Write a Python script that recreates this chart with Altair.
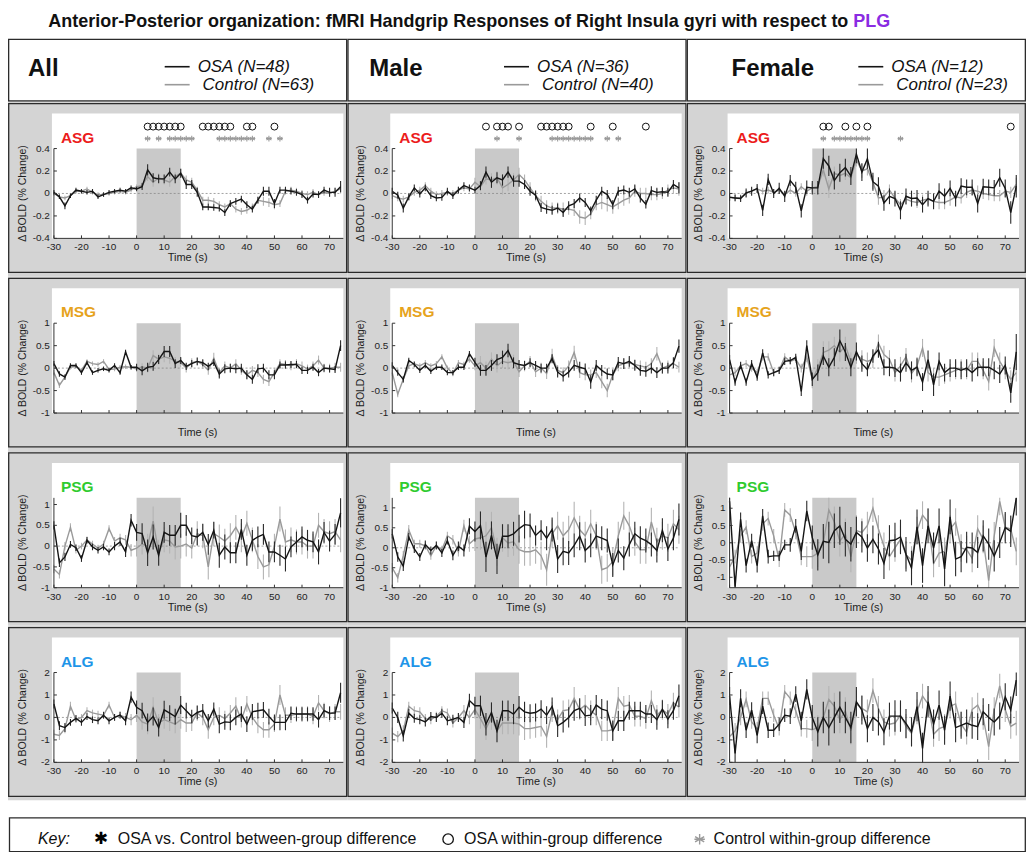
import altair as alt
import numpy as np
import pandas as pd

FONT = "Liberation Sans"

# ---------------- shared axes / categories ----------------
TIME = list(range(-30, 76, 2))          # -30 ... 74 s, 53 samples
X_TICKS = [-30, -20, -10, 0, 10, 20, 30, 40, 50, 60, 70]
X_DOMAIN = [-30, 75]
STIM = [0, 16]
ZERO_SPAN = [-30, 74]
COLUMNS = ["All", "Male", "Female"]
OSA_N = [48, 36, 12]
CTL_N = [63, 40, 23]
REGIONS = ["ASG", "MSG", "PSG", "ALG"]
REGION_COLORS = ["#ec1c1c", "#e6a31c", "#2fcb2f", "#1e95e8"]
Y_LIMITS = {
    "ASG": [(-0.4, 0.4), (-0.4, 0.4), (-0.4, 0.4)],
    "MSG": [(-1, 1), (-1, 1), (-1, 1)],
    "PSG": [(-1, 1.16), (-1, 1.25), (-1.3, 1.3)],
    "ALG": [(-2, 2), (-2, 2), (-2, 2)],
}
Y_TICKS = {
    "ASG": [-0.4, -0.2, 0, 0.2, 0.4],
    "MSG": [-1, -0.5, 0, 0.5, 1],
    "PSG": [-1, -0.5, 0, 0.5, 1],
    "ALG": [-2, -1, 0, 1, 2],
}

# ---------------- significance markers (ASG row) ----------------
ASG_ALL_CIRCLES = [4, 6, 8, 10, 12, 14, 16, 24, 26, 28, 30, 32, 34, 40, 42, 50]
ASG_ALL_STARS = [4, 8, 12, 14, 16, 18, 20, 30, 32, 34, 36, 38, 40, 42, 48, 52]
ASG_MALE_CIRCLES = [4, 8, 10, 12, 16, 24, 26, 28, 30, 32, 34, 42, 50, 62]
ASG_MALE_STARS = [8, 16, 28, 30, 32, 34, 36, 38, 40, 42, 48, 52]
ASG_FEMALE_CIRCLES = [4, 6, 12, 16, 20, 72]
ASG_FEMALE_STARS = [4, 8, 10, 12, 14, 16, 18, 20, 32]

# ---------------- ASG ----------------
ASG_ALL_OSA = [0.01, -0.03, -0.11, -0.02, 0.03, 0.02, 0.01, 0.02, -0.03, -0.01,
               0.01, 0.02, 0.03, 0.02, 0.05, 0.04, 0.06, 0.21, 0.14, 0.13,
               0.13, 0.19, 0.13, 0.18, 0.08, 0.08, 0.01, -0.12, -0.12, -0.125,
               -0.13, -0.17, -0.09, -0.07, -0.05, -0.10, -0.14, -0.06, 0.02, 0.02,
               -0.09, 0.03, 0.03, 0.02, 0.01, -0.01, -0.06, -0.005, -0.01, 0.03,
               0.01, 0.01, 0.06]
ASG_ALL_OSA_SE = [0.02, 0.02, 0.03, 0.02, 0.02, 0.02, 0.02, 0.02, 0.02, 0.02,
                  0.02, 0.02, 0.02, 0.02, 0.02, 0.02, 0.03, 0.05, 0.04, 0.04,
                  0.04, 0.04, 0.04, 0.04, 0.04, 0.04, 0.04, 0.03, 0.03, 0.03,
                  0.03, 0.03, 0.03, 0.03, 0.03, 0.03, 0.03, 0.03, 0.04, 0.04,
                  0.04, 0.03, 0.03, 0.03, 0.03, 0.03, 0.03, 0.03, 0.03, 0.03,
                  0.04, 0.04, 0.05]
ASG_ALL_CTL = [0.0, -0.03, -0.04, -0.02, 0.02, 0.02, 0.04, 0.01, -0.01, -0.01,
               0.0, 0.01, 0.02, 0.01, 0.03, 0.06, 0.07, 0.15, 0.10, 0.14,
               0.12, 0.10, 0.15, 0.18, 0.12, 0.10, 0.03, -0.06, -0.06, -0.07,
               -0.10, -0.12, -0.09, -0.14, -0.16, -0.15, -0.12, -0.06, -0.07, -0.08,
               -0.10, -0.09, 0.02, 0.03, 0.02, 0.0, -0.01, 0.01, -0.01, 0.01,
               0.0, 0.02, 0.04]
ASG_ALL_CTL_SE = [0.02, 0.02, 0.02, 0.02, 0.02, 0.02, 0.02, 0.02, 0.02, 0.02,
                  0.02, 0.02, 0.02, 0.02, 0.02, 0.02, 0.03, 0.04, 0.04, 0.04,
                  0.04, 0.04, 0.04, 0.04, 0.04, 0.04, 0.03, 0.03, 0.03, 0.03,
                  0.03, 0.03, 0.03, 0.03, 0.03, 0.03, 0.03, 0.03, 0.04, 0.04,
                  0.04, 0.03, 0.03, 0.03, 0.03, 0.03, 0.03, 0.03, 0.03, 0.03,
                  0.03, 0.03, 0.04]

ASG_MALE_OSA = [0.02, -0.015, -0.13, -0.03, 0.05, -0.005, 0.05, -0.02, -0.04, -0.035,
                0.02, -0.02, 0.03, 0.07, 0.05, 0.03, 0.07, 0.19, 0.10, 0.14,
                0.12, 0.19, 0.11, 0.11, 0.08, 0.02, -0.015, -0.125, -0.14, -0.15,
                -0.13, -0.17, -0.11, -0.09, -0.04, -0.08, -0.155, -0.06, 0.02, -0.01,
                -0.10, 0.02, 0.03, 0.01, 0.04, -0.04, -0.095, 0.025, 0.01, 0.015,
                0.01, 0.08, 0.05]
ASG_MALE_OSA_SE = [0.03, 0.03, 0.04, 0.03, 0.03, 0.03, 0.03, 0.03, 0.03, 0.03,
                   0.03, 0.03, 0.03, 0.03, 0.03, 0.03, 0.04, 0.05, 0.05, 0.05,
                   0.05, 0.05, 0.05, 0.05, 0.04, 0.04, 0.04, 0.04, 0.04, 0.04,
                   0.04, 0.04, 0.04, 0.04, 0.04, 0.04, 0.04, 0.04, 0.04, 0.04,
                   0.04, 0.04, 0.04, 0.04, 0.04, 0.04, 0.04, 0.04, 0.04, 0.04,
                   0.04, 0.04, 0.05]
ASG_MALE_CTL = [-0.02, -0.04, -0.05, -0.03, 0.01, 0.03, 0.07, 0.02, -0.01, 0.0,
                0.01, 0.0, 0.03, 0.05, 0.04, 0.10, 0.06, 0.13, 0.12, 0.14,
                0.05, 0.08, 0.12, 0.17, 0.12, 0.05, -0.02, -0.07, -0.11, -0.13,
                -0.13, -0.14, -0.14, -0.15, -0.21, -0.22, -0.18, -0.10, -0.08, -0.10,
                -0.12, -0.09, -0.06, -0.04, 0.02, 0.0, 0.0, -0.01, -0.01, 0.0,
                0.03, 0.05, 0.04]
ASG_MALE_CTL_SE = [0.03, 0.03, 0.03, 0.03, 0.03, 0.03, 0.03, 0.03, 0.03, 0.03,
                   0.03, 0.03, 0.03, 0.03, 0.03, 0.04, 0.04, 0.05, 0.06, 0.06,
                   0.06, 0.06, 0.06, 0.06, 0.05, 0.05, 0.05, 0.05, 0.05, 0.05,
                   0.05, 0.06, 0.05, 0.05, 0.06, 0.06, 0.05, 0.05, 0.06, 0.06,
                   0.06, 0.05, 0.05, 0.05, 0.05, 0.05, 0.05, 0.05, 0.05, 0.05,
                   0.05, 0.05, 0.06]

ASG_FEMALE_OSA = [-0.035, -0.04, -0.045, 0.005, 0.02, 0.045, -0.15, 0.125, 0.0, 0.045,
                  -0.025, 0.115, 0.055, -0.155, 0.055, 0.05, 0.05, 0.31, 0.245, 0.115,
                  0.185, 0.23, 0.155, 0.35, 0.19, 0.31, 0.105, 0.065, -0.085, -0.025,
                  -0.045, -0.15, -0.025, -0.045, -0.04, -0.10, -0.045, -0.07, 0.02, -0.025,
                  0.045, -0.045, 0.065, 0.055, 0.055, -0.09, 0.06, 0.055, 0.05, 0.14,
                  0.045, -0.17, 0.065]
ASG_FEMALE_OSA_SE = [0.03, 0.03, 0.03, 0.04, 0.04, 0.04, 0.05, 0.05, 0.04, 0.05,
                     0.05, 0.05, 0.05, 0.06, 0.06, 0.06, 0.06, 0.09, 0.09, 0.08,
                     0.08, 0.08, 0.08, 0.08, 0.08, 0.09, 0.08, 0.08, 0.07, 0.07,
                     0.07, 0.08, 0.07, 0.07, 0.07, 0.07, 0.07, 0.07, 0.07, 0.07,
                     0.07, 0.07, 0.07, 0.07, 0.07, 0.08, 0.07, 0.07, 0.07, 0.08,
                     0.08, 0.10, 0.10]
ASG_FEMALE_CTL = [-0.03, -0.04, -0.04, 0.0, 0.02, 0.04, 0.02, 0.03, 0.01, 0.03,
                  -0.01, 0.03, 0.0, 0.06, 0.02, 0.05, 0.06, 0.21, 0.04, 0.18,
                  0.16, 0.18, 0.14, 0.30, 0.20, 0.22, 0.10, -0.04, -0.03, 0.03,
                  -0.04, -0.10, -0.05, -0.07, -0.08, -0.06, -0.05, -0.07, -0.08, -0.08,
                  -0.06, -0.03, -0.04, 0.01, 0.03, 0.02, 0.0, -0.01, -0.02, -0.02,
                  0.02, 0.01, 0.08]
ASG_FEMALE_CTL_SE = [0.03, 0.03, 0.03, 0.03, 0.03, 0.03, 0.03, 0.03, 0.03, 0.03,
                     0.03, 0.03, 0.03, 0.03, 0.04, 0.04, 0.05, 0.06, 0.08, 0.06,
                     0.06, 0.06, 0.06, 0.06, 0.06, 0.06, 0.06, 0.06, 0.06, 0.05,
                     0.05, 0.05, 0.05, 0.05, 0.05, 0.05, 0.05, 0.05, 0.06, 0.06,
                     0.05, 0.05, 0.05, 0.05, 0.05, 0.05, 0.05, 0.05, 0.05, 0.05,
                     0.05, 0.05, 0.06]

# ---------------- MSG ----------------
MSG_ALL_OSA = [0.10, -0.13, -0.20, 0.06, 0.06, -0.10, 0.12, -0.10, -0.05, -0.015,
               -0.05, 0.06, -0.10, 0.36, 0.02, 0.02, -0.06, 0.02, 0.04, 0.19,
               0.37, 0.37, 0.10, 0.17, 0.04, 0.10, 0.15, 0.12, 0.04, 0.13,
               -0.13, -0.015, 0.0, -0.015, 0.0, -0.15, -0.25, -0.015, 0.0, -0.15,
               -0.15, 0.07, 0.07, 0.08, 0.08, -0.05, -0.05, 0.02, -0.10, 0.0,
               -0.015, -0.03, 0.50]
MSG_ALL_OSA_SE = [0.06, 0.06, 0.06, 0.05, 0.05, 0.05, 0.05, 0.05, 0.05, 0.05,
                  0.05, 0.05, 0.05, 0.05, 0.05, 0.08, 0.10, 0.10, 0.10, 0.10,
                  0.12, 0.12, 0.10, 0.08, 0.08, 0.08, 0.08, 0.08, 0.08, 0.08,
                  0.10, 0.10, 0.10, 0.10, 0.10, 0.10, 0.10, 0.10, 0.10, 0.10,
                  0.10, 0.08, 0.08, 0.08, 0.08, 0.08, 0.08, 0.08, 0.08, 0.08,
                  0.08, 0.08, 0.12]
MSG_ALL_CTL = [-0.10, -0.38, -0.20, 0.02, 0.04, -0.05, 0.15, 0.10, 0.08, 0.15,
               -0.03, -0.02, 0.02, 0.03, 0.02, -0.02, 0.03, 0.0, 0.28, 0.20,
               0.25, 0.22, 0.15, 0.12, 0.0, 0.12, 0.15, 0.08, -0.05, 0.22,
               -0.10, 0.05, 0.0, 0.10, -0.05, -0.15, -0.05, -0.10, -0.25, -0.30,
               -0.10, 0.10, 0.08, 0.05, 0.10, 0.05, -0.02, 0.05, 0.18, 0.0,
               0.0, 0.02, 0.02]
MSG_ALL_CTL_SE = [0.06, 0.06, 0.06, 0.05, 0.05, 0.05, 0.05, 0.05, 0.05, 0.05,
                  0.05, 0.05, 0.05, 0.05, 0.05, 0.06, 0.08, 0.10, 0.12, 0.12,
                  0.12, 0.12, 0.10, 0.10, 0.10, 0.10, 0.10, 0.10, 0.10, 0.12,
                  0.10, 0.10, 0.10, 0.10, 0.10, 0.10, 0.10, 0.10, 0.10, 0.10,
                  0.10, 0.10, 0.10, 0.10, 0.10, 0.10, 0.10, 0.10, 0.10, 0.10,
                  0.10, 0.10, 0.10]

MSG_MALE_OSA = [0.06, -0.10, -0.25, 0.17, 0.08, -0.05, 0.06, -0.07, 0.02, 0.02,
                -0.10, -0.10, 0.02, 0.02, 0.32, 0.13, -0.05, -0.05, 0.06, 0.19,
                0.24, 0.39, 0.12, 0.08, 0.06, 0.12, 0.06, 0.0, 0.0, 0.21,
                -0.09, -0.18, -0.09, 0.06, 0.02, -0.015, -0.31, 0.06, -0.05, -0.13,
                -0.15, 0.13, 0.10, 0.15, 0.06, -0.05, -0.07, 0.0, -0.10, 0.0,
                0.0, 0.12, 0.49]
MSG_MALE_OSA_SE = [0.07, 0.07, 0.07, 0.06, 0.06, 0.06, 0.06, 0.06, 0.06, 0.06,
                   0.06, 0.06, 0.06, 0.06, 0.06, 0.10, 0.12, 0.12, 0.12, 0.12,
                   0.15, 0.15, 0.12, 0.10, 0.10, 0.10, 0.10, 0.10, 0.10, 0.10,
                   0.12, 0.12, 0.12, 0.12, 0.12, 0.12, 0.15, 0.12, 0.12, 0.12,
                   0.12, 0.12, 0.12, 0.12, 0.12, 0.12, 0.12, 0.12, 0.12, 0.12,
                   0.12, 0.12, 0.15]
MSG_MALE_CTL = [-0.10, -0.58, -0.25, 0.05, 0.10, 0.05, 0.12, 0.05, 0.10, 0.25,
                0.0, -0.12, 0.12, 0.08, 0.20, 0.05, 0.12, 0.0, 0.20, 0.05,
                0.15, 0.12, 0.15, -0.08, 0.05, 0.15, -0.08, 0.0, -0.12, 0.28,
                -0.05, -0.10, 0.05, 0.35, -0.10, -0.15, -0.15, -0.10, -0.30, -0.50,
                -0.15, 0.05, 0.10, 0.12, 0.08, 0.05, 0.02, 0.10, 0.32, 0.0,
                0.05, 0.10, 0.02]
MSG_MALE_CTL_SE = [0.07, 0.07, 0.07, 0.06, 0.06, 0.06, 0.06, 0.06, 0.06, 0.06,
                   0.06, 0.06, 0.06, 0.06, 0.08, 0.10, 0.15, 0.15, 0.15, 0.15,
                   0.15, 0.15, 0.15, 0.12, 0.12, 0.12, 0.12, 0.12, 0.12, 0.15,
                   0.12, 0.12, 0.12, 0.15, 0.12, 0.12, 0.12, 0.12, 0.15, 0.15,
                   0.12, 0.12, 0.12, 0.12, 0.12, 0.12, 0.12, 0.12, 0.15, 0.12,
                   0.12, 0.12, 0.12]

MSG_FEMALE_OSA = [0.19, -0.31, 0.06, -0.31, 0.10, -0.20, 0.34, -0.15, -0.10, -0.05,
                  0.15, 0.17, 0.24, -0.52, 0.50, -0.25, -0.10, 0.27, 0.02, 0.24,
                  0.61, 0.36, 0.02, 0.37, 0.10, -0.03, 0.27, 0.41, 0.02, 0.02,
                  0.0, -0.10, 0.12, -0.05, 0.02, -0.31, 0.19, -0.37, 0.15, -0.10,
                  0.0, 0.0, -0.05, 0.0, -0.10, 0.02, 0.02, 0.02, -0.05, -0.13,
                  0.06, -0.55, 0.36]
MSG_FEMALE_OSA_SE = [0.10, 0.08, 0.08, 0.08, 0.08, 0.08, 0.08, 0.08, 0.08, 0.08,
                     0.08, 0.08, 0.08, 0.10, 0.12, 0.15, 0.18, 0.20, 0.20, 0.20,
                     0.25, 0.20, 0.20, 0.20, 0.18, 0.15, 0.15, 0.18, 0.18, 0.20,
                     0.20, 0.20, 0.20, 0.20, 0.20, 0.20, 0.20, 0.25, 0.20, 0.20,
                     0.20, 0.20, 0.20, 0.20, 0.20, 0.20, 0.20, 0.20, 0.20, 0.20,
                     0.20, 0.22, 0.40]
MSG_FEMALE_CTL = [-0.15, -0.10, 0.05, 0.10, 0.0, -0.10, 0.25, 0.25, -0.10, -0.05,
                  0.25, 0.15, 0.20, 0.0, 0.25, -0.25, 0.0, 0.35, 0.40, 0.50,
                  0.35, 0.50, 0.15, 0.30, 0.20, 0.15, 0.20, 0.55, 0.30, 0.20,
                  -0.10, 0.05, 0.25, -0.12, 0.05, 0.45, -0.10, -0.20, -0.20, -0.15,
                  -0.10, -0.05, 0.0, -0.05, 0.15, 0.15, -0.05, -0.30, 0.45, 0.15,
                  -0.05, -0.25, -0.10]
MSG_FEMALE_CTL_SE = [0.08, 0.08, 0.08, 0.08, 0.08, 0.08, 0.08, 0.08, 0.08, 0.08,
                     0.08, 0.08, 0.08, 0.10, 0.12, 0.20, 0.20, 0.25, 0.20, 0.20,
                     0.20, 0.20, 0.20, 0.20, 0.20, 0.20, 0.20, 0.20, 0.20, 0.20,
                     0.20, 0.20, 0.20, 0.20, 0.20, 0.20, 0.20, 0.20, 0.20, 0.20,
                     0.20, 0.20, 0.20, 0.20, 0.20, 0.20, 0.20, 0.20, 0.20, 0.20,
                     0.20, 0.20, 0.20]

# ---------------- PSG ----------------
PSG_ALL_OSA = [0.50, -0.40, -0.26, 0.04, -0.04, -0.30, 0.14, -0.02, -0.10, -0.02,
               -0.14, 0.0, 0.10, -0.14, 0.62, 0.33, 0.30, -0.16, 0.22, -0.22,
               0.33, 0.26, 0.26, 0.50, 0.50, 0.25, 0.22, 0.33, 0.04, 0.38,
               -0.22, -0.02, -0.16, -0.16, 0.40, -0.22, 0.14, 0.22, 0.28, -0.14,
               -0.14, -0.22, -0.31, -0.02, 0.10, 0.22, 0.14, 0.10, -0.14, 0.33,
               0.12, 0.28, 0.80]
PSG_ALL_OSA_SE = [0.10, 0.10, 0.10, 0.08, 0.08, 0.08, 0.08, 0.08, 0.08, 0.08,
                  0.08, 0.10, 0.10, 0.12, 0.15, 0.20, 0.25, 0.32, 0.30, 0.25,
                  0.25, 0.25, 0.25, 0.30, 0.25, 0.20, 0.20, 0.20, 0.25, 0.20,
                  0.30, 0.30, 0.25, 0.25, 0.25, 0.25, 0.25, 0.25, 0.25, 0.25,
                  0.25, 0.25, 0.30, 0.25, 0.25, 0.25, 0.25, 0.25, 0.30, 0.25,
                  0.25, 0.25, 0.35]
PSG_ALL_CTL = [-0.55, -0.68, 0.0, 0.45, -0.10, 0.0, 0.15, 0.05, -0.05, 0.05,
               0.42, 0.12, 0.20, 0.15, -0.10, -0.05, 0.05, 0.0, 0.60, -0.15,
               0.15, 0.12, -0.02, 0.0, 0.05, -0.05, 0.30, 0.25, -0.50, 0.30,
               0.22, 0.12, 0.25, 0.45, 0.20, 0.55, 0.15, -0.25, -0.50, -0.45,
               0.0, 0.65, 0.10, 0.15, 0.10, 0.10, 0.0, 0.0, 0.50, 0.35,
               0.30, 0.35, 0.15]
PSG_ALL_CTL_SE = [0.10, 0.10, 0.10, 0.10, 0.08, 0.08, 0.08, 0.08, 0.08, 0.08,
                  0.08, 0.10, 0.10, 0.12, 0.15, 0.20, 0.25, 0.30, 0.35, 0.30,
                  0.30, 0.30, 0.30, 0.30, 0.30, 0.25, 0.30, 0.30, 0.30, 0.30,
                  0.30, 0.30, 0.30, 0.30, 0.35, 0.30, 0.30, 0.30, 0.30, 0.30,
                  0.30, 0.30, 0.30, 0.30, 0.30, 0.30, 0.30, 0.30, 0.30, 0.30,
                  0.30, 0.30, 0.30]

PSG_MALE_OSA = [0.35, -0.23, -0.46, 0.27, -0.03, -0.23, 0.08, -0.07, 0.06, -0.13,
                0.18, -0.19, 0.04, -0.07, 0.54, 0.41, 0.56, -0.23, 0.31, -0.28,
                0.29, 0.29, 0.35, 0.48, 0.58, 0.56, 0.31, 0.44, 0.24, 0.46,
                -0.28, -0.09, -0.13, 0.06, 0.29, -0.07, 0.06, 0.29, 0.24, 0.18,
                -0.43, -0.07, -0.26, 0.08, 0.35, 0.24, 0.18, 0.08, -0.07, 0.44,
                -0.03, 0.24, 0.71]
PSG_MALE_OSA_SE = [0.12, 0.12, 0.12, 0.10, 0.10, 0.10, 0.10, 0.10, 0.10, 0.10,
                   0.10, 0.12, 0.12, 0.15, 0.20, 0.25, 0.35, 0.38, 0.35, 0.38,
                   0.30, 0.30, 0.30, 0.35, 0.35, 0.30, 0.25, 0.25, 0.30, 0.30,
                   0.35, 0.35, 0.30, 0.30, 0.35, 0.30, 0.30, 0.30, 0.30, 0.30,
                   0.30, 0.30, 0.30, 0.30, 0.30, 0.30, 0.30, 0.30, 0.30, 0.30,
                   0.30, 0.30, 0.40]
PSG_MALE_CTL = [-0.50, -0.75, -0.20, 0.45, 0.10, 0.10, 0.05, -0.20, 0.05, -0.05,
                0.30, 0.20, -0.10, 0.55, 0.10, 0.22, 0.25, 0.30, 0.50, -0.10,
                0.25, 0.12, 0.15, -0.05, -0.10, -0.10, -0.05, -0.20, -0.55, 0.35,
                0.55, 0.30, 0.45, 0.75, 0.45, 0.30, 0.60, 0.30, -0.55, -0.50,
                -0.35, 0.30, 0.80, 0.55, 0.15, -0.05, -0.05, 0.65, 0.15, 0.30,
                0.25, 0.60, 0.45]
PSG_MALE_CTL_SE = [0.12, 0.12, 0.12, 0.12, 0.10, 0.10, 0.10, 0.10, 0.10, 0.10,
                   0.10, 0.12, 0.12, 0.15, 0.20, 0.30, 0.30, 0.35, 0.40, 0.35,
                   0.35, 0.35, 0.35, 0.35, 0.35, 0.35, 0.35, 0.35, 0.40, 0.35,
                   0.35, 0.35, 0.35, 0.40, 0.35, 0.35, 0.35, 0.35, 0.35, 0.35,
                   0.35, 0.35, 0.35, 0.35, 0.35, 0.35, 0.35, 0.35, 0.35, 0.35,
                   0.35, 0.35, 0.35]

PSG_FEMALE_OSA = [1.20, -1.27, 0.68, -0.66, 0.06, -0.66, 0.78, -0.40, -0.38, -0.38,
                  -0.06, -0.06, 0.49, -0.25, 0.92, 0.15, -0.35, 0.04, 0.01, 0.35,
                  0.49, 0.10, -0.04, 0.30, 0.17, -0.15, 0.10, -0.18, -0.60, 0.06,
                  0.08, 0.17, -0.33, -0.73, 0.46, -0.66, 0.49, -0.15, 0.49, -0.76,
                  0.75, -0.47, -0.40, -0.13, -0.15, -0.28, 0.20, -0.04, -0.38, 0.01,
                  0.44, 0.33, 1.29]
PSG_FEMALE_OSA_SE = [0.20, 0.20, 0.20, 0.20, 0.20, 0.20, 0.20, 0.20, 0.15, 0.15,
                     0.15, 0.20, 0.20, 0.25, 0.30, 0.35, 0.45, 0.50, 0.60, 0.50,
                     0.55, 0.50, 0.50, 0.45, 0.45, 0.40, 0.40, 0.45, 0.45, 0.45,
                     0.50, 0.50, 0.50, 0.50, 0.50, 0.50, 0.50, 0.45, 0.50, 0.50,
                     0.50, 0.50, 0.45, 0.45, 0.45, 0.45, 0.45, 0.45, 0.45, 0.45,
                     0.45, 0.45, 0.50]
PSG_FEMALE_CTL = [-0.70, -0.40, 0.20, 0.45, -0.40, -0.30, 0.55, 0.70, 0.20, -0.50,
                  0.95, 0.80, 0.30, -0.40, -0.40, -0.40, -0.30, 0.0, 0.95, 0.60,
                  0.05, 0.25, -0.40, 0.35, 0.30, 0.50, 1.00, 0.40, -0.10, -0.40,
                  -0.15, 0.10, -0.35, -0.50, 0.35, 0.80, 0.60, -0.60, -0.30, -0.25,
                  0.40, 0.60, -0.15, -0.20, -0.45, 0.40, 0.10, -1.10, 0.20, 1.20,
                  0.45, 0.40, -0.25]
PSG_FEMALE_CTL_SE = [0.20, 0.20, 0.20, 0.20, 0.20, 0.20, 0.20, 0.20, 0.20, 0.20,
                     0.20, 0.20, 0.20, 0.25, 0.30, 0.35, 0.40, 0.45, 0.50, 0.45,
                     0.45, 0.45, 0.45, 0.45, 0.40, 0.40, 0.40, 0.40, 0.40, 0.40,
                     0.40, 0.40, 0.40, 0.40, 0.40, 0.40, 0.40, 0.40, 0.40, 0.40,
                     0.40, 0.40, 0.40, 0.40, 0.40, 0.40, 0.40, 0.45, 0.40, 0.40,
                     0.40, 0.40, 0.40]

# ---------------- ALG ----------------
ALG_ALL_OSA = [0.60, -0.37, -0.45, -0.22, -0.04, -0.22, 0.04, -0.10, -0.15, 0.10,
               -0.15, 0.0, 0.10, -0.15, 0.90, 0.45, 0.30, -0.22, 0.04, -0.45,
               0.34, 0.19, 0.04, 0.55, 0.30, 0.04, 0.22, 0.30, -0.15, 0.37,
               -0.30, -0.20, -0.22, 0.0, 0.15, -0.30, 0.25, 0.30, 0.34, 0.04,
               -0.22, -0.22, -0.22, 0.19, 0.15, 0.15, 0.15, 0.15, -0.10, 0.30,
               0.19, 0.19, 1.10]
ALG_ALL_OSA_SE = [0.20, 0.20, 0.20, 0.15, 0.15, 0.15, 0.15, 0.15, 0.15, 0.15,
                  0.15, 0.15, 0.15, 0.20, 0.25, 0.30, 0.35, 0.40, 0.40, 0.40,
                  0.40, 0.35, 0.35, 0.40, 0.35, 0.30, 0.30, 0.30, 0.30, 0.30,
                  0.40, 0.35, 0.35, 0.35, 0.35, 0.35, 0.35, 0.35, 0.35, 0.35,
                  0.35, 0.35, 0.35, 0.30, 0.30, 0.30, 0.30, 0.30, 0.35, 0.30,
                  0.30, 0.30, 0.45]
ALG_ALL_CTL = [-0.75, -0.80, -0.50, 0.50, -0.10, 0.0, 0.30, 0.20, 0.15, 0.10,
               0.55, 0.0, 0.10, 0.0, -0.10, 0.10, -0.20, -0.30, 0.45, -0.25,
               -0.10, -0.20, -0.30, -0.10, -0.25, -0.25, 0.20, 0.0, -0.55, 0.0,
               0.10, -0.05, 0.20, 0.50, -0.10, 0.60, 0.0, -0.35, -0.55, -0.55,
               -0.30, 1.00, 0.10, 0.10, 0.15, 0.15, 0.15, 0.05, 0.65, 0.30,
               0.15, 0.25, 0.25]
ALG_ALL_CTL_SE = [0.20, 0.20, 0.20, 0.20, 0.15, 0.15, 0.15, 0.15, 0.15, 0.15,
                  0.15, 0.15, 0.15, 0.20, 0.25, 0.30, 0.35, 0.45, 0.45, 0.40,
                  0.40, 0.40, 0.40, 0.40, 0.40, 0.35, 0.35, 0.35, 0.40, 0.35,
                  0.35, 0.35, 0.35, 0.40, 0.35, 0.35, 0.35, 0.35, 0.35, 0.35,
                  0.35, 0.45, 0.35, 0.35, 0.35, 0.35, 0.35, 0.35, 0.35, 0.35,
                  0.35, 0.35, 0.35]

ALG_MALE_OSA = [0.42, 0.0, -0.82, 0.19, -0.04, -0.10, -0.20, 0.04, 0.0, 0.19,
                -0.15, -0.08, 0.0, -0.22, 0.75, 0.52, 0.52, -0.30, 0.22, -0.60,
                0.30, 0.30, 0.15, 0.45, 0.25, 0.19, 0.22, 0.37, 0.10, 0.49,
                -0.37, -0.22, 0.0, 0.30, 0.40, 0.07, 0.10, 0.55, 0.37, 0.30,
                -0.60, -0.15, -0.15, 0.30, 0.30, 0.30, 0.15, 0.15, -0.10, 0.37,
                -0.08, 0.30, 0.97]
ALG_MALE_OSA_SE = [0.25, 0.25, 0.25, 0.20, 0.20, 0.20, 0.20, 0.20, 0.20, 0.20,
                   0.20, 0.20, 0.20, 0.25, 0.30, 0.40, 0.45, 0.50, 0.45, 0.50,
                   0.45, 0.45, 0.45, 0.50, 0.45, 0.40, 0.40, 0.40, 0.40, 0.40,
                   0.50, 0.45, 0.45, 0.45, 0.45, 0.45, 0.45, 0.45, 0.45, 0.45,
                   0.45, 0.45, 0.45, 0.40, 0.40, 0.40, 0.40, 0.40, 0.45, 0.40,
                   0.40, 0.40, 0.50]
ALG_MALE_CTL = [-0.70, -0.85, -0.60, 0.50, 0.30, 0.25, -0.05, -0.10, 0.05, 0.30,
                0.20, -0.25, 0.0, 0.30, 0.0, 0.35, -0.05, -0.50, 0.0, -0.60,
                -0.25, -0.25, -0.25, -0.30, -0.50, -0.50, -0.45, -0.40, -0.85, 0.25,
                -0.10, 0.30, 0.35, 0.85, 0.35, 0.55, 0.30, 0.10, -0.60, -0.60,
                -0.55, 0.85, 0.50, 0.55, 0.05, 0.05, -0.05, 0.75, 0.10, 0.35,
                0.15, 0.65, 0.45]
ALG_MALE_CTL_SE = [0.25, 0.25, 0.25, 0.20, 0.20, 0.20, 0.20, 0.20, 0.20, 0.20,
                   0.20, 0.20, 0.20, 0.25, 0.30, 0.40, 0.45, 0.50, 0.55, 0.50,
                   0.50, 0.50, 0.50, 0.50, 0.50, 0.45, 0.45, 0.45, 0.50, 0.45,
                   0.45, 0.45, 0.45, 0.50, 0.45, 0.45, 0.45, 0.45, 0.45, 0.45,
                   0.45, 0.50, 0.45, 0.45, 0.45, 0.45, 0.45, 0.45, 0.45, 0.45,
                   0.45, 0.45, 0.45]

ALG_FEMALE_OSA = [0.95, -1.60, 0.85, -0.57, 0.33, -0.80, 0.50, -0.57, -0.57, -0.30,
                  0.10, 0.06, 1.04, -0.15, 1.25, 0.0, -0.64, 0.0, -0.45, 0.0,
                  0.45, 0.0, -0.45, 0.70, 0.33, -0.50, 0.0, -0.20, -0.64, 0.06,
                  0.06, 0.06, -0.27, -0.64, 0.48, -1.38, 0.70, -0.30, 0.55, -0.57,
                  0.95, -0.45, -0.35, -0.25, -0.35, -0.41, 0.25, 0.0, -0.20, 0.06,
                  0.92, 0.33, 1.66]
ALG_FEMALE_OSA_SE = [0.40, 0.40, 0.40, 0.35, 0.35, 0.35, 0.35, 0.35, 0.30, 0.30,
                     0.30, 0.35, 0.35, 0.40, 0.45, 0.55, 0.65, 0.70, 0.80, 0.70,
                     0.70, 0.70, 0.70, 0.65, 0.65, 0.60, 0.60, 0.60, 0.60, 0.60,
                     0.70, 0.70, 0.65, 0.65, 0.65, 0.70, 0.70, 0.65, 0.65, 0.65,
                     0.65, 0.65, 0.60, 0.60, 0.60, 0.60, 0.60, 0.60, 0.60, 0.60,
                     0.60, 0.60, 0.70]
ALG_FEMALE_CTL = [-0.85, -0.60, 0.0, 0.80, -0.20, -0.50, 0.85, 0.85, 0.10, -0.50,
                  1.15, 0.85, 0.30, -0.50, -0.50, -0.55, -0.45, 0.0, 0.80, 0.50,
                  -0.10, 0.30, -0.60, 0.60, 0.40, 0.25, 1.20, 0.40, -0.20, -0.30,
                  -0.25, 0.10, -0.40, -0.70, 0.25, 0.95, 0.60, -0.75, -0.50, -0.40,
                  0.50, 0.60, -0.30, -0.65, 0.35, 0.55, 0.0, -1.30, 0.35, 1.40,
                  0.35, -0.40, -0.25]
ALG_FEMALE_CTL_SE = [0.35, 0.35, 0.35, 0.35, 0.30, 0.30, 0.30, 0.30, 0.30, 0.30,
                     0.30, 0.30, 0.30, 0.35, 0.40, 0.50, 0.55, 0.60, 0.60, 0.60,
                     0.60, 0.60, 0.60, 0.60, 0.55, 0.55, 0.55, 0.55, 0.55, 0.55,
                     0.55, 0.55, 0.55, 0.60, 0.55, 0.55, 0.55, 0.55, 0.55, 0.55,
                     0.55, 0.55, 0.55, 0.55, 0.55, 0.55, 0.55, 0.60, 0.55, 0.55,
                     0.55, 0.55, 0.55]

DATA = {
    ("ASG", 0): (ASG_ALL_OSA, ASG_ALL_OSA_SE, ASG_ALL_CTL, ASG_ALL_CTL_SE),
    ("ASG", 1): (ASG_MALE_OSA, ASG_MALE_OSA_SE, ASG_MALE_CTL, ASG_MALE_CTL_SE),
    ("ASG", 2): (ASG_FEMALE_OSA, ASG_FEMALE_OSA_SE, ASG_FEMALE_CTL, ASG_FEMALE_CTL_SE),
    ("MSG", 0): (MSG_ALL_OSA, MSG_ALL_OSA_SE, MSG_ALL_CTL, MSG_ALL_CTL_SE),
    ("MSG", 1): (MSG_MALE_OSA, MSG_MALE_OSA_SE, MSG_MALE_CTL, MSG_MALE_CTL_SE),
    ("MSG", 2): (MSG_FEMALE_OSA, MSG_FEMALE_OSA_SE, MSG_FEMALE_CTL, MSG_FEMALE_CTL_SE),
    ("PSG", 0): (PSG_ALL_OSA, PSG_ALL_OSA_SE, PSG_ALL_CTL, PSG_ALL_CTL_SE),
    ("PSG", 1): (PSG_MALE_OSA, PSG_MALE_OSA_SE, PSG_MALE_CTL, PSG_MALE_CTL_SE),
    ("PSG", 2): (PSG_FEMALE_OSA, PSG_FEMALE_OSA_SE, PSG_FEMALE_CTL, PSG_FEMALE_CTL_SE),
    ("ALG", 0): (ALG_ALL_OSA, ALG_ALL_OSA_SE, ALG_ALL_CTL, ALG_ALL_CTL_SE),
    ("ALG", 1): (ALG_MALE_OSA, ALG_MALE_OSA_SE, ALG_MALE_CTL, ALG_MALE_CTL_SE),
    ("ALG", 2): (ALG_FEMALE_OSA, ALG_FEMALE_OSA_SE, ALG_FEMALE_CTL, ALG_FEMALE_CTL_SE),
}
MARKERS = {
    0: (ASG_ALL_CIRCLES, ASG_ALL_STARS),
    1: (ASG_MALE_CIRCLES, ASG_MALE_STARS),
    2: (ASG_FEMALE_CIRCLES, ASG_FEMALE_STARS),
}

# ---------------- styling / layout ----------------
CELL_W, CELL_H = 340, 175
PLOT_W = 290
X0 = [46, 45, 43]        # left edge of the data area inside each cell
WHITE_TOP = 12
AX_TOP = 47              # pixel row of the y-range top
AX_BOT = 137             # pixel row of the y-range bottom / x axis
PANEL_BG = "#d4d4d4"
SHADE = "#c9c9c9"
BORDER = "#2b2b2b"
AXIS_C = "#333333"
TEXT_C = "#1e1e1e"
OSA_COLOR = "#151515"
CTL_COLOR = "#9a9a9a"
OSA_ERR = "#2a2a2a"
CTL_ERR = "#b4b4b4"
TIME_TITLE_X = {"ASG": 134, "MSG": 144, "PSG": 134, "ALG": 144}
STAR_PATH = "M0,-1L0,1M-0.87,-0.5L0.87,0.5M-0.87,0.5L0.87,-0.5M-1,0L1,0"
ONE = pd.DataFrame({"k": [0]})


def fmt(v):
    return f"{v:g}"


def series_df(vals, errs, lo, hi):
    v = np.array(vals, dtype=float)
    e = np.array(errs, dtype=float)
    return pd.DataFrame({
        "t": TIME, "m": v,
        "elo": np.clip(v - e, lo, hi), "ehi": np.clip(v + e, lo, hi),
    })


def panel(region, ri, ci):
    lo, hi = Y_LIMITS[region][ci]
    x0 = X0[ci]
    yticks = Y_TICKS[region]
    osa, osa_se, ctl, ctl_se = DATA[(region, ci)]

    xs = alt.Scale(domain=X_DOMAIN, range=[x0, x0 + PLOT_W], nice=False, zero=False)
    ys = alt.Scale(domain=[lo, hi], range=[AX_BOT, AX_TOP], nice=False, zero=False)

    def X(f):
        return alt.X(f"{f}:Q", scale=xs, axis=None)

    def Y(f):
        return alt.Y(f"{f}:Q", scale=ys, axis=None)

    base = alt.Chart(ONE)
    bg = base.mark_rect(fill=PANEL_BG).encode(
        x=alt.value(0), x2=alt.value(CELL_W), y=alt.value(0), y2=alt.value(CELL_H))
    border = base.mark_rect(fill=PANEL_BG, fillOpacity=0, stroke=BORDER, strokeWidth=1.3).encode(
        x=alt.value(0.7), x2=alt.value(CELL_W - 0.7), y=alt.value(2), y2=alt.value(CELL_H - 4))
    white = base.mark_rect(fill="white").encode(
        x=alt.value(x0 - 2), x2=alt.value(x0 + PLOT_W), y=alt.value(WHITE_TOP), y2=alt.value(AX_BOT))

    shade_df = pd.DataFrame({"x0": [STIM[0]], "x1": [STIM[1]], "y0": [lo], "y1": [hi]})
    shade = alt.Chart(shade_df).mark_rect(fill=SHADE).encode(
        x=X("x0"), x2="x1", y=Y("y0"), y2="y1")

    zero_df = pd.DataFrame({"x0": [ZERO_SPAN[0]], "x1": [ZERO_SPAN[1]], "y0": [0]})
    zero = alt.Chart(zero_df).mark_rule(color="#8a8a8a", strokeWidth=0.8, strokeDash=[2, 2]).encode(
        x=X("x0"), x2="x1", y=Y("y0"))

    cdf = series_df(ctl, ctl_se, lo, hi)
    odf = series_df(osa, osa_se, lo, hi)
    c_err = alt.Chart(cdf).mark_rule(color=CTL_ERR, strokeWidth=1.1).encode(
        x=X("t"), y=Y("elo"), y2="ehi")
    c_line = alt.Chart(cdf).mark_line(color=CTL_COLOR, strokeWidth=1.4).encode(
        x=X("t"), y=Y("m"))
    o_err = alt.Chart(odf).mark_rule(color=OSA_ERR, strokeWidth=1.1).encode(
        x=X("t"), y=Y("elo"), y2="ehi")
    o_line = alt.Chart(odf).mark_line(color=OSA_COLOR, strokeWidth=1.4).encode(
        x=X("t"), y=Y("m"))

    # axes drawn through the same scales
    xline_df = pd.DataFrame({"x0": [X_DOMAIN[0]], "x1": [X_DOMAIN[1]], "y0": [lo]})
    xline = alt.Chart(xline_df).mark_rule(color=AXIS_C, strokeWidth=1).encode(
        x=X("x0"), x2="x1", y=Y("y0"))
    yline_df = pd.DataFrame({"x0": [X_DOMAIN[0]], "y0": [lo], "y1": [hi]})
    yline = alt.Chart(yline_df).mark_rule(color=AXIS_C, strokeWidth=1).encode(
        x=X("x0"), y=Y("y0"), y2="y1")
    xt_df = pd.DataFrame({"t": X_TICKS, "lab": [fmt(v) for v in X_TICKS]})
    xt = alt.Chart(xt_df).mark_rule(color=AXIS_C, strokeWidth=1).encode(
        x=X("t"), y=alt.value(AX_BOT), y2=alt.value(AX_BOT - 3))
    yt_df = pd.DataFrame({"v": yticks, "lab": [fmt(v) for v in yticks]})
    yt = alt.Chart(yt_df).mark_rule(color=AXIS_C, strokeWidth=1).encode(
        y=Y("v"), x=alt.value(x0), x2=alt.value(x0 + 3))
    ylab = alt.Chart(yt_df).mark_text(font=FONT, fontSize=10, color=TEXT_C, align="right",
                                      baseline="middle").encode(
        y=Y("v"), x=alt.value(x0 - 4), text="lab:N")

    label = base.mark_text(text=region, color=REGION_COLORS[ri], font=FONT, fontSize=15.5,
                           fontWeight="bold", align="left", baseline="middle").encode(
        x=alt.value(x0 + 7), y=alt.value(WHITE_TOP + 24))
    ytitle = base.mark_text(text="Δ BOLD (% Change)", angle=270, font=FONT, fontSize=10.5,
                            color=TEXT_C, align="center", baseline="middle").encode(
        x=alt.value(x0 - 31), y=alt.value((AX_TOP + AX_BOT) / 2))
    xtitle = base.mark_text(text="Time (s)", font=FONT, fontSize=11, color=TEXT_C,
                            align="center", baseline="middle").encode(
        x=alt.value(x0 + TIME_TITLE_X[region]), y=alt.value(AX_BOT + 20))

    layers = [bg, border, white, shade, zero, c_err, c_line, o_err, o_line,
              xline, yline, xt, yt, ylab, label, ytitle, xtitle]

    if region != "MSG":
        xlab = alt.Chart(xt_df).mark_text(font=FONT, fontSize=10, color=TEXT_C, align="center",
                                          baseline="top").encode(
            x=X("t"), y=alt.value(AX_BOT + 4), text="lab:N")
        layers.append(xlab)

    if region == "ASG":
        circ, stars = MARKERS[ci]
        circles = alt.Chart(pd.DataFrame({"t": circ})).mark_point(
            shape="circle", filled=False, color="#111111", size=48, strokeWidth=1, opacity=1).encode(
            x=X("t"), y=alt.value(WHITE_TOP + 13))
        star = alt.Chart(pd.DataFrame({"t": stars})).mark_point(
            shape=STAR_PATH, filled=False, color="#9a9a9a", size=34, strokeWidth=1.1, opacity=1).encode(
            x=X("t"), y=alt.value(WHITE_TOP + 25))
        layers += [circles, star]

    return alt.layer(*layers).properties(width=CELL_W, height=CELL_H)


def header_cell(ci):
    name_x = [20, 22, 45][ci]
    leg_x = [157, 157, 172][ci]
    base = alt.Chart(ONE)
    rect = base.mark_rect(fill="white", stroke=BORDER, strokeWidth=1.3).encode(
        x=alt.value(0.65), x2=alt.value(CELL_W - 0.65), y=alt.value(0.65), y2=alt.value(62.35))
    name = base.mark_text(text=COLUMNS[ci], font=FONT, fontSize=24, fontWeight="bold",
                          color="#111111", align="left", baseline="middle").encode(
        x=alt.value(name_x), y=alt.value(30))
    l1 = base.mark_rule(color=OSA_COLOR, strokeWidth=1.6).encode(
        x=alt.value(leg_x), x2=alt.value(leg_x + 25), y=alt.value(28))
    l2 = base.mark_rule(color=CTL_COLOR, strokeWidth=1.6).encode(
        x=alt.value(leg_x), x2=alt.value(leg_x + 25), y=alt.value(46))
    t1 = base.mark_text(text=f"OSA (N={OSA_N[ci]})", font=FONT, fontSize=17, fontStyle="italic",
                        color="#111111", align="left", baseline="middle").encode(
        x=alt.value(leg_x + 33), y=alt.value(28))
    t2 = base.mark_text(text=f"Control (N={CTL_N[ci]})", font=FONT, fontSize=17, fontStyle="italic",
                        color="#111111", align="left", baseline="middle").encode(
        x=alt.value(leg_x + 38), y=alt.value(46))
    return alt.layer(rect, name, l1, l2, t1, t2).properties(width=CELL_W, height=63)


# ---------------- title ----------------
tb = alt.Chart(ONE)
title_main = tb.mark_text(
    text="Anterior-Posterior organization: fMRI Handgrip Responses of Right Insula gyri with respect to",
    font=FONT, fontSize=18, fontWeight="bold", color="#111111", align="right", baseline="middle").encode(
    x=alt.value(842), y=alt.value(13))
title_plg = tb.mark_text(text="PLG", font=FONT, fontSize=18, fontWeight="bold", color="#8a2be2",
                         align="left", baseline="middle").encode(x=alt.value(847), y=alt.value(13))
title = alt.layer(title_main, title_plg).properties(width=3 * CELL_W, height=30)

header = alt.hconcat(*[header_cell(c) for c in range(3)], spacing=0)
rows = [alt.hconcat(*[panel(r, ri, c) for c in range(3)], spacing=0) for ri, r in enumerate(REGIONS)]

# ---------------- key ----------------
kb = alt.Chart(ONE)
KY = 39
key_box = kb.mark_rect(fill="white", stroke=BORDER, strokeWidth=1.3).encode(
    x=alt.value(1.5), x2=alt.value(3 * CELL_W - 0.7), y=alt.value(17.6), y2=alt.value(51.5))
key_lbl = kb.mark_text(text="Key:", font=FONT, fontSize=16, fontStyle="italic", color="#111111",
                       align="left", baseline="middle").encode(x=alt.value(30), y=alt.value(KY))
key_s1 = kb.mark_text(text="✱", font="DejaVu Sans", fontSize=17, fontWeight="bold", color="#000000",
                      align="center", baseline="middle").encode(x=alt.value(93), y=alt.value(KY))
key_t1 = kb.mark_text(text="OSA vs. Control between-group difference", font=FONT, fontSize=16,
                      color="#111111", align="left", baseline="middle").encode(x=alt.value(110), y=alt.value(KY))
key_s2 = kb.mark_point(shape="circle", filled=False, color="#111111", size=110, strokeWidth=1.3,
                       opacity=1).encode(x=alt.value(441), y=alt.value(KY))
key_t2 = kb.mark_text(text="OSA within-group difference", font=FONT, fontSize=16,
                      color="#111111", align="left", baseline="middle").encode(x=alt.value(457), y=alt.value(KY))
key_s3 = kb.mark_point(shape=STAR_PATH, filled=False, color="#9a9a9a", size=110, strokeWidth=1.4,
                       opacity=1).encode(x=alt.value(693), y=alt.value(KY))
key_t3 = kb.mark_text(text="Control within-group difference", font=FONT, fontSize=16,
                      color="#111111", align="left", baseline="middle").encode(x=alt.value(707), y=alt.value(KY))
key = alt.layer(key_box, key_lbl, key_s1, key_t1, key_s2, key_t2, key_s3, key_t3).properties(
    width=3 * CELL_W, height=52)

chart = alt.vconcat(title, header, *rows, key, spacing=0).properties(
    padding=0, background="white"
).configure_view(stroke=None)

chart.save("out.html", embed_options={"renderer": "svg", "actions": False})
